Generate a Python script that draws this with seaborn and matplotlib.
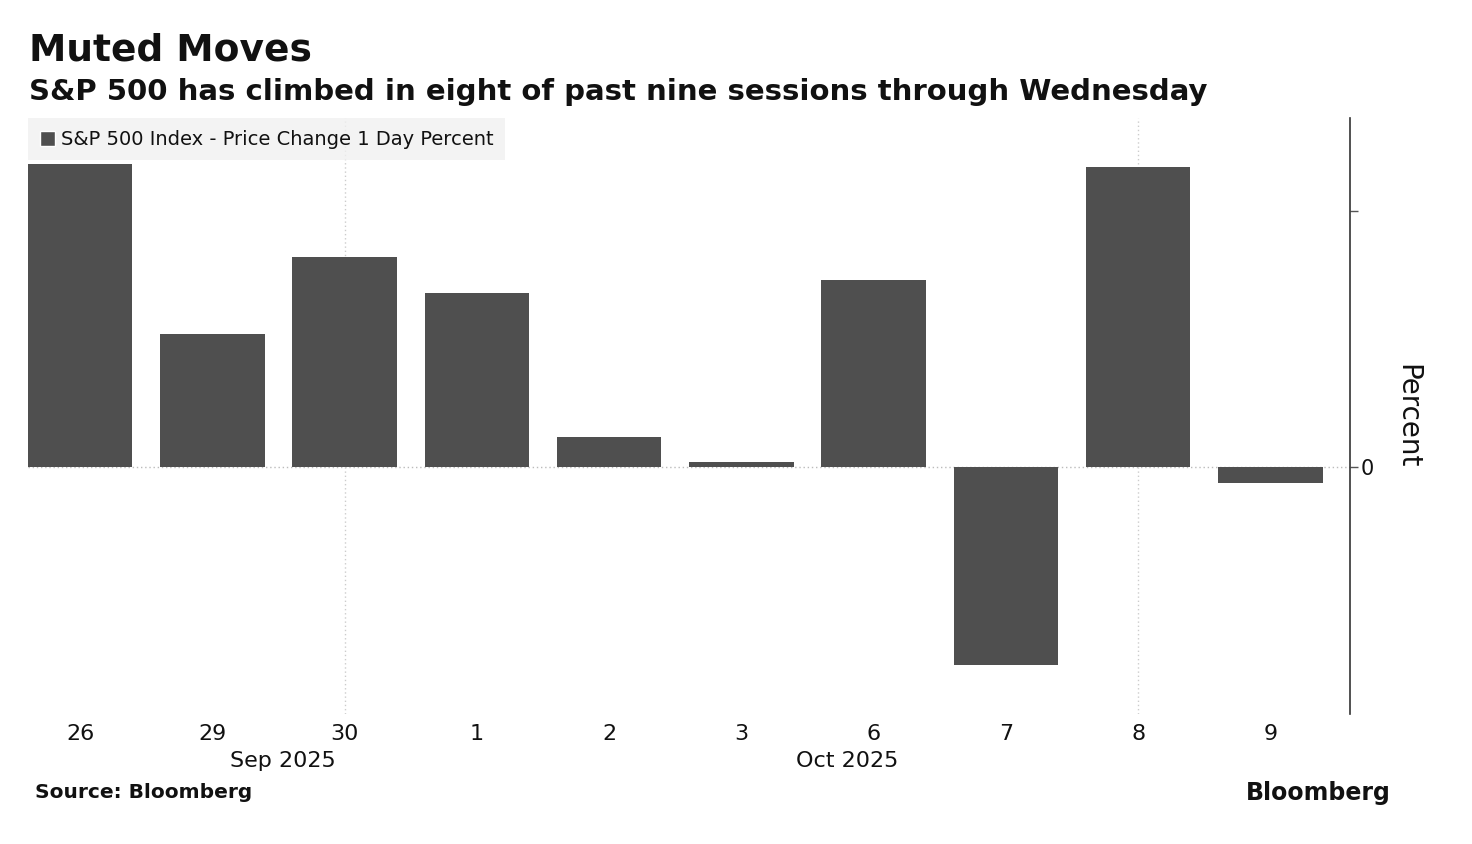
import pandas as pd
import seaborn as sns
import matplotlib.pyplot as plt
from matplotlib.patches import Patch

# Dados: variacao diaria do S&P 500 (%)
dias = ['26', '29', '30', '1', '2', '3', '6', '7', '8', '9']
variacao = [0.59, 0.26, 0.41, 0.34, 0.06, 0.01, 0.365, -0.385, 0.585, -0.03]
meses = ['Sep 2025', 'Oct 2025']
meses_pos = [1.53, 5.8]

df = pd.DataFrame({'dia': dias, 'variacao': variacao})

sns.set_style('white')
plt.rcParams['font.family'] = ['DejaVu Sans']
plt.rcParams['text.color'] = '#111111'
plt.rcParams['xtick.color'] = '#111111'
plt.rcParams['ytick.color'] = '#111111'
plt.rcParams['axes.labelcolor'] = '#111111'

fig = plt.figure(figsize=(14.72, 8.44), dpi=100)
ax = fig.add_axes([0.019, 0.154, 0.898, 0.706])

cor = '#4f4f4f'
sns.barplot(x='dia', y='variacao', data=df, order=dias, color=cor, width=0.79,
            saturation=1, linewidth=0, ax=ax)

ax.set_xlim(-0.395, 9.6)
ax.set_ylim(-0.48, 0.68)

# grade pontilhada
ax.axhline(0, color='#bbbbbb', linestyle=(0, (1, 2)), linewidth=1, zorder=0)
for xv in [2, 8]:
    ax.axvline(xv, color='#cccccc', linestyle=(0, (1, 2)), linewidth=1, zorder=0)

# eixo y do lado direito
for s in ['top', 'left', 'bottom']:
    ax.spines[s].set_visible(False)
ax.spines['right'].set_color('#333333')
ax.spines['right'].set_linewidth(1.2)
ax.yaxis.tick_right()
ax.yaxis.set_label_position('right')
ax.set_yticks([0, 0.5])
ax.set_yticklabels(['0', ''])
ax.tick_params(axis='y', length=6, width=1, color='#555555', labelsize=15, pad=2)
ax.set_ylabel('Percent', fontsize=20, rotation=-90, labelpad=14)
ax.yaxis.label.set_va('bottom')

ax.tick_params(axis='x', length=0, labelsize=16, pad=7)
ax.set_xlabel('')
for m, p in zip(meses, meses_pos):
    ax.text(p, -0.062, m, transform=ax.get_xaxis_transform(), ha='center',
            va='top', fontsize=16)

# legenda
handle = Patch(facecolor=cor, label='S&P 500 Index - Price Change 1 Day Percent')
leg = ax.legend(handles=[handle], loc='upper left', bbox_to_anchor=(0, 1),
                borderaxespad=0, frameon=True, fontsize=14, handlelength=0.8,
                handleheight=0.8, handletextpad=0.3, borderpad=0.6,
                fancybox=False)
leg.get_frame().set_facecolor('#f0f0f0')
leg.get_frame().set_edgecolor('none')

# titulos
fig.text(0.02, 0.961, 'Muted Moves', fontsize=27, fontweight='bold', va='top')
fig.text(0.02, 0.907, 'S&P 500 has climbed in eight of past nine sessions through Wednesday',
         fontsize=21, fontweight='bold', va='top')
fig.text(0.024, 0.061, 'Source: Bloomberg', fontsize=14.5, fontweight='bold', va='center')
fig.text(0.945, 0.061, 'Bloomberg', fontsize=17, fontweight='bold', va='center', ha='right')

plt.savefig('out.png', dpi=100)
